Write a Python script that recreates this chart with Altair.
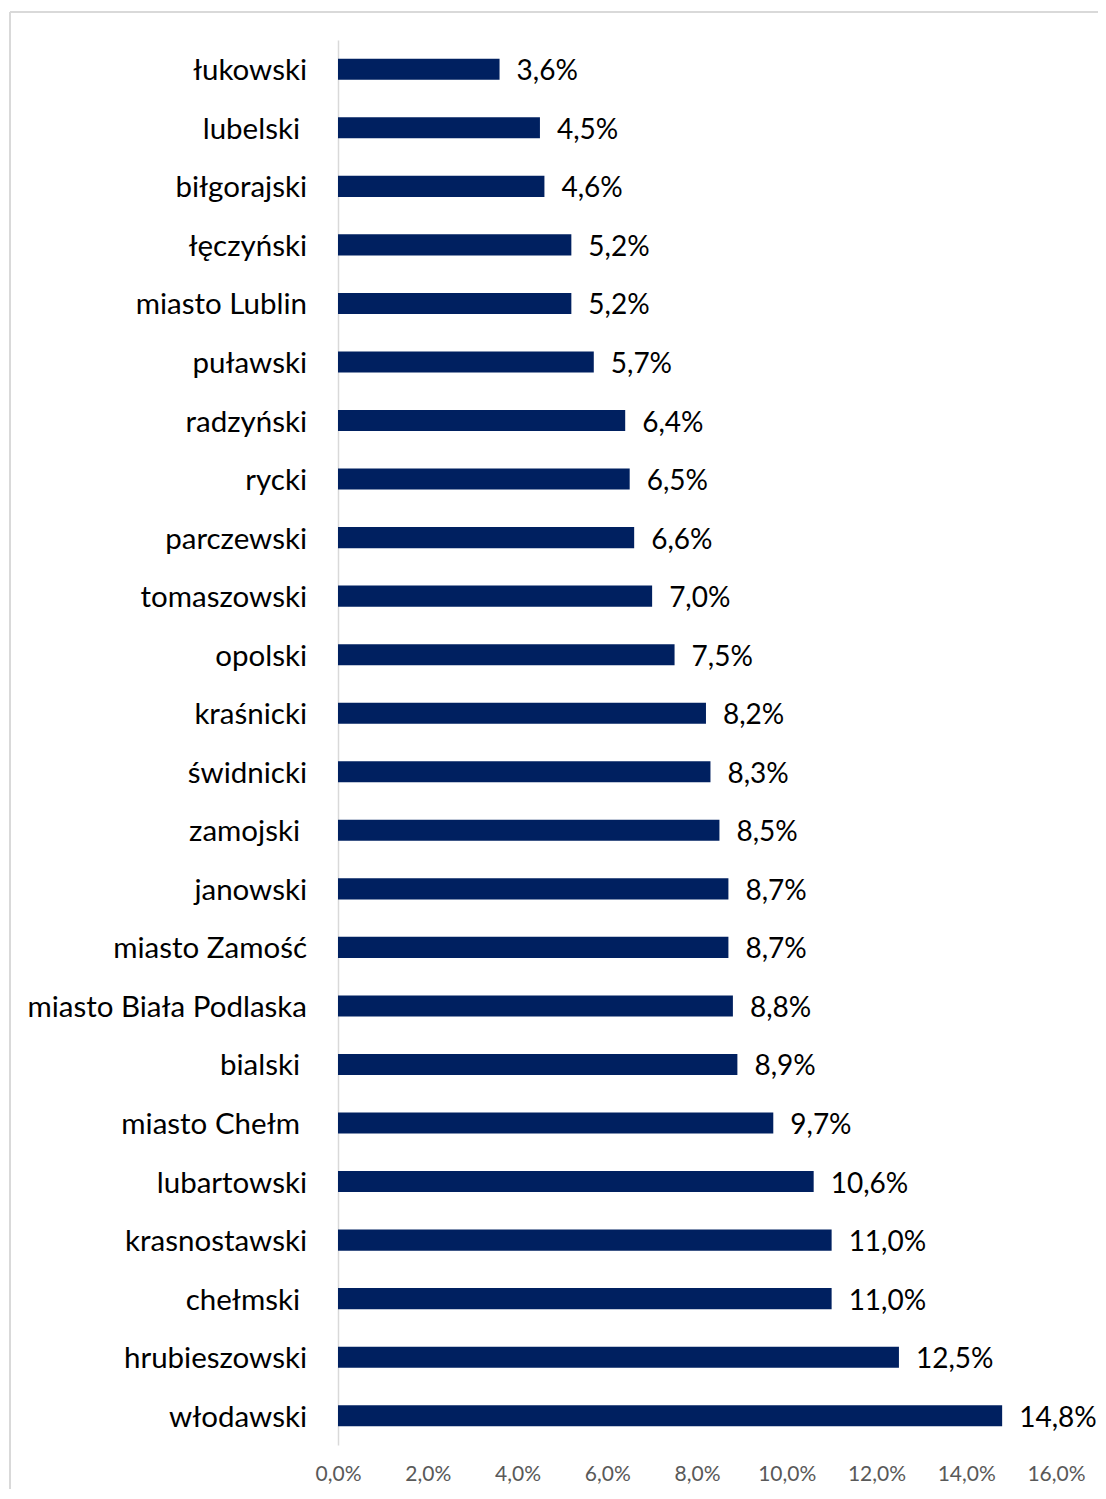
import altair as alt
import pandas as pd

categories = ["łukowski", "lubelski ", "biłgorajski", "łęczyński", "miasto Lublin",
              "puławski", "radzyński", "rycki", "parczewski", "tomaszowski", "opolski",
              "kraśnicki", "świdnicki", "zamojski ", "janowski", "miasto Zamość",
              "miasto Biała Podlaska", "bialski ", "miasto Chełm ", "lubartowski",
              "krasnostawski", "chełmski ", "hrubieszowski", "włodawski"]
values = [3.6, 4.5, 4.6, 5.2, 5.2, 5.7, 6.4, 6.5, 6.6, 7.0, 7.5, 8.2, 8.3, 8.5,
          8.7, 8.7, 8.8, 8.9, 9.7, 10.6, 11.0, 11.0, 12.5, 14.8]
x_ticks = [0, 2, 4, 6, 8, 10, 12, 14, 16]

df = pd.DataFrame({"cat": categories, "val": values})
df["label"] = [f"{v:.1f}".replace(".", ",") + "%" for v in values]

FONT = "Lato"
BAR = "#002060"

y_enc = alt.Y("cat:N", sort=None, title=None,
              scale=alt.Scale(paddingInner=0.64, paddingOuter=0.32),
              axis=alt.Axis(labels=False, ticks=False, tickSize=0,
                            domain=True, domainColor="#d9d9d9", domainWidth=1.5))
x_enc = alt.X("val:Q", title=None,
              scale=alt.Scale(domain=[0, 16], nice=False, zero=True),
              axis=alt.Axis(values=x_ticks, grid=False, domain=False, ticks=False,
                            tickSize=0, labelFont=FONT, labelFontSize=21,
                            labelColor="#595959", labelPadding=18, labelFlush=False,
                            labelExpr="replace(format(datum.value, '.1f'), '.', ',') + '%'"))

bars = alt.Chart(df).mark_bar(color=BAR).encode(x=x_enc, y=y_enc)

texts = alt.Chart(df).mark_text(align="left", baseline="middle", dx=17, dy=3,
                                font=FONT, fontSize=28, color="#000000").encode(
    x=alt.X("val:Q"), y=alt.Y("cat:N", sort=None), text="label:N")

# category labels drawn as text so the original trailing spaces keep their width
cat_labels = alt.Chart(df).transform_calculate(
    off="test(/ $/, datum.cat) ? -7 : 0"
).mark_text(align="right", baseline="middle", dy=2, font=FONT, fontSize=29.5,
            color="#000000").encode(
    x=alt.value(-31),
    xOffset=alt.XOffset("off:Q", scale=None),
    y=alt.Y("cat:N", sort=None),
    text="cat:N")

frame_left = alt.Chart(df).mark_rule(color="#d9d9d9", strokeWidth=1.5).encode(
    x=alt.value(-328), y=alt.value(-28), y2=alt.value(1600))
frame_top = alt.Chart(df).mark_rule(color="#d9d9d9", strokeWidth=1.5).encode(
    x=alt.value(-328), x2=alt.value(900), y=alt.value(-28))

chart = alt.layer(frame_left, frame_top, bars, texts, cat_labels).properties(
    width=718, height=1405,
    background="#ffffff",
    autosize=alt.AutoSizeParams(type="none"),
    padding={"left": 330, "top": 32, "right": 42, "bottom": 44},
).configure_view(stroke=None, strokeWidth=0)

chart.save("out.html", embed_options={"renderer": "svg", "actions": False})
